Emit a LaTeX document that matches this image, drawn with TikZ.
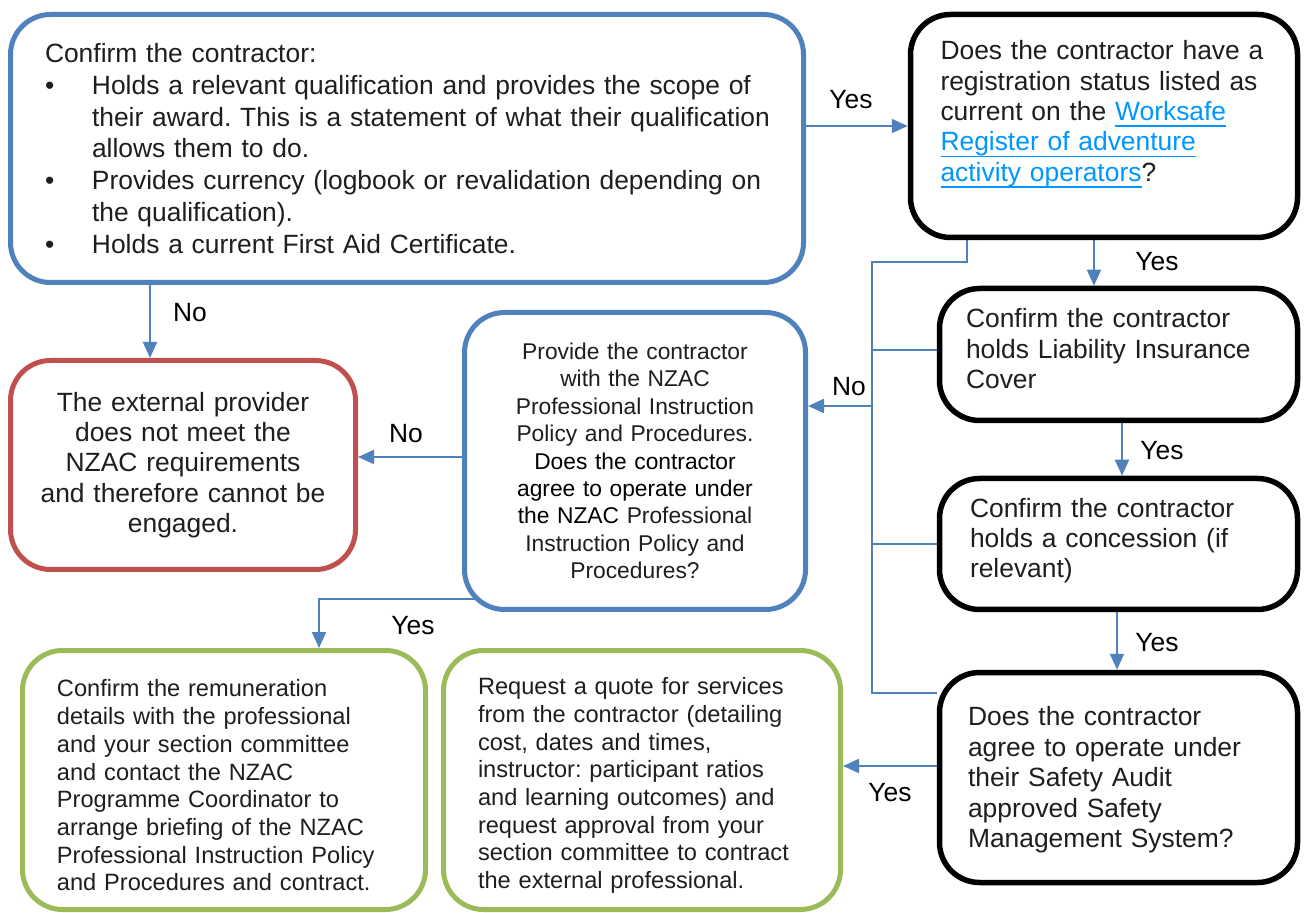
\documentclass[tikz,border=0pt]{standalone}
\usepackage{fontspec}
\setmainfont{Liberation Sans}
\usepackage{xcolor}
\usetikzlibrary{arrows.meta,backgrounds}
\definecolor{boxblue}{RGB}{79,129,189}
\definecolor{boxred}{RGB}{192,80,77}
\definecolor{boxgreen}{RGB}{155,187,89}
\definecolor{linkblue}{RGB}{0,150,255}
\definecolor{txtgray}{RGB}{30,30,30}
\frenchspacing
\newcommand{\itembul}[1]{\makebox[23.5pt][l]{\textbullet}\mbox{#1}}
\newcommand{\itemrest}[1]{\hspace*{23.5pt}\mbox{#1}}
\newcommand{\weblink}[1]{\leavevmode{\color{linkblue}\setbox0\hbox{#1}\rlap{\rule[-3.2pt]{\wd0}{0.9pt}}\box0}}
\tikzset{flowbox/.style={draw,fill=white,rounded corners=20pt,line width=2.5pt,text=txtgray,inner ysep=2pt,font=\fontsize{13.2}{15.2}\selectfont},
bluebox/.style={flowbox,draw=boxblue},
blackbox/.style={flowbox,draw=black,line width=2.75pt},
redbox/.style={flowbox,draw=boxred},
greenbox/.style={flowbox,draw=boxgreen,font=\fontsize{11.8}{13.85}\selectfont},
link/.style={draw=boxblue,line width=1pt},
linkarrow/.style={link,-{Triangle[length=8pt,width=7pt]}},
answer/.style={text=black,inner sep=0pt,font=\fontsize{13.2}{15.2}\selectfont}}

\begin{document}
\begin{tikzpicture}[x=0.5pt,y=-0.5pt]
\useasboundingbox (0,0) rectangle (1305,913);
\clip (0,0) rectangle (1305,913);
% boxes
\node[bluebox,minimum width=396.5pt,minimum height=134pt,text width=362pt,inner xsep=17.25pt,align=left,font=\fontsize{13.2}{15.9}\selectfont] (confirm) at (407,148.5) {Confirm the contractor:\\
\itembul{Holds a relevant qualification and provides the scope of}\\
\itemrest{their award. This is a statement of what their qualification}\\
\itemrest{allows them to do.}\\
\itembul{Provides currency (logbook or revalidation depending on}\\
\itemrest{the qualification).}\\
\itembul{Holds a current First Aid Certificate.}};
\node[blackbox,minimum width=193.5pt,minimum height=111.5pt,text width=163.5pt,inner xsep=15pt,align=left] (registered) at (1104,126) {Does the contractor have a\\
registration status listed as\\
current on the \weblink{Worksafe}\\
\weblink{Register of adventure}\\
\weblink{activity operators}?\rule[-15pt]{0pt}{15pt}};
\node[redbox,minimum width=172.5pt,minimum height=104.5pt,text width=152.5pt,inner xsep=10pt,align=center] (notmet) at (183,465) {The external provider\\
does not meet the\\
NZAC requirements\\
and therefore cannot be\\
engaged.};
\node[bluebox,minimum width=170.5pt,minimum height=148.5pt,text width=156.5pt,inner xsep=7pt,align=center,font=\fontsize{11.4}{13.7}\selectfont] (policy) at (635,461) {Provide the contractor\\
with the NZAC\\
Professional Instruction\\
Policy and Procedures.\\
{\color{black}Does the contractor}\\
{\color{black}agree to operate under}\\
{\color{black}the NZAC} Professional\\
Instruction Policy and\\
Procedures?};
\node[blackbox,minimum width=179pt,minimum height=66pt,text width=152.5pt,inner xsep=13.25pt,align=left] (insurance) at (1118.5,354.5) {Confirm the contractor\\
holds Liability Insurance\\
Cover\rule[-6pt]{0pt}{6pt}};
\node[blackbox,minimum width=179pt,minimum height=65.5pt,text width=148.5pt,inner xsep=15.25pt,align=left] (concession) at (1118.5,544) {Confirm the contractor\\
holds a concession (if\\
relevant)\rule[-6pt]{0pt}{6pt}};
\node[blackbox,minimum width=179pt,minimum height=105pt,text width=150.5pt,inner xsep=14.25pt,align=left] (safety) at (1118.5,777.5) {\rule{0pt}{12pt}Does the contractor\\
agree to operate under\\
their Safety Audit\\
approved Safety\\
Management System?};
\node[greenbox,minimum width=201.5pt,minimum height=129.5pt,text width=170pt,inner xsep=15.75pt,align=left] (remuneration) at (224,780) {\rule{0pt}{14pt}\hspace*{1.5pt}Confirm the remuneration\\
\hspace*{1.5pt}details with the professional\\
\hspace*{1.5pt}and your section committee\\
\hspace*{1.5pt}and contact the NZAC\\
\hspace*{1.5pt}Programme Coordinator to\\
\hspace*{1.5pt}arrange briefing of the NZAC\\
\hspace*{1.5pt}Professional Instruction Policy\\
\hspace*{1.5pt}and Procedures and contract.};
\node[greenbox,minimum width=198.5pt,minimum height=129.5pt,text width=167pt,inner xsep=15.75pt,align=left] (quote) at (642,780) {\rule{0pt}{14pt}\hspace*{1.5pt}Request a quote for services\\
\hspace*{1.5pt}from the contractor (detailing\\
\hspace*{1.5pt}cost, dates and times,\\
\hspace*{1.5pt}instructor: participant ratios\\
\hspace*{1.5pt}and learning outcomes) and\\
\hspace*{1.5pt}request approval from your\\
\hspace*{1.5pt}section committee to contract\\
\hspace*{1.5pt}the external professional.};
% answers
\node[answer] (yes1) at (851,100) {Yes};
\node[answer] (no1) at (190,313) {No};
\node[answer] (yes2) at (1157,262) {Yes};
\node[answer] (no2) at (849,387) {No};
\node[answer] (yes3) at (1162,451) {Yes};
\node[answer] (yes4) at (1157,643) {Yes};
\node[answer] (no3) at (406,434) {No};
\node[answer] (yes5) at (413,626) {Yes};
\node[answer] (yes6) at (890,793) {Yes};
% connectors
\coordinate (colno) at (150,0);
\coordinate (colyes) at (1094,0);
\coordinate (colbus) at (967,0);
\coordinate (bustop) at (872,262);
\coordinate (busbot) at (872,693);
\coordinate (rowno) at (0,406);
\coordinate (colins) at (1122,0);
\coordinate (colcon) at (1117,0);
\coordinate (rowyes) at (0,599);
\coordinate (colrem) at (319,0);
\coordinate (rowquote) at (0,766);
\begin{scope}[on background layer]
\draw[linkarrow] (confirm.east |- registered.west) -- (registered.west);
\draw[linkarrow] (confirm.south -| colno) -- (notmet.north -| colno);
\draw[linkarrow] (registered.south -| colyes) -- (insurance.north -| colyes);
\draw[link] (registered.south -| colbus) |- (bustop) -- (busbot) -- (safety.west |- busbot);
\draw[link] (bustop |- 0,350) -- (insurance.west |- 0,350);
\draw[link] (bustop |- concession.west) -- (concession.west);
\draw[linkarrow] (bustop |- rowno) -- (policy.east |- rowno);
\draw[linkarrow] (insurance.south -| colins) -- (concession.north -| colins);
\draw[linkarrow] (concession.south -| colcon) -- (safety.north -| colcon);
\draw[linkarrow] (policy.west |- 0,457) -- (notmet.east |- 0,457);
\draw[linkarrow] (policy.center |- rowyes) -| (remuneration.north -| colrem);
\draw[linkarrow] (safety.west |- rowquote) -- (quote.east |- rowquote);
\end{scope}
\end{tikzpicture}
\end{document}
